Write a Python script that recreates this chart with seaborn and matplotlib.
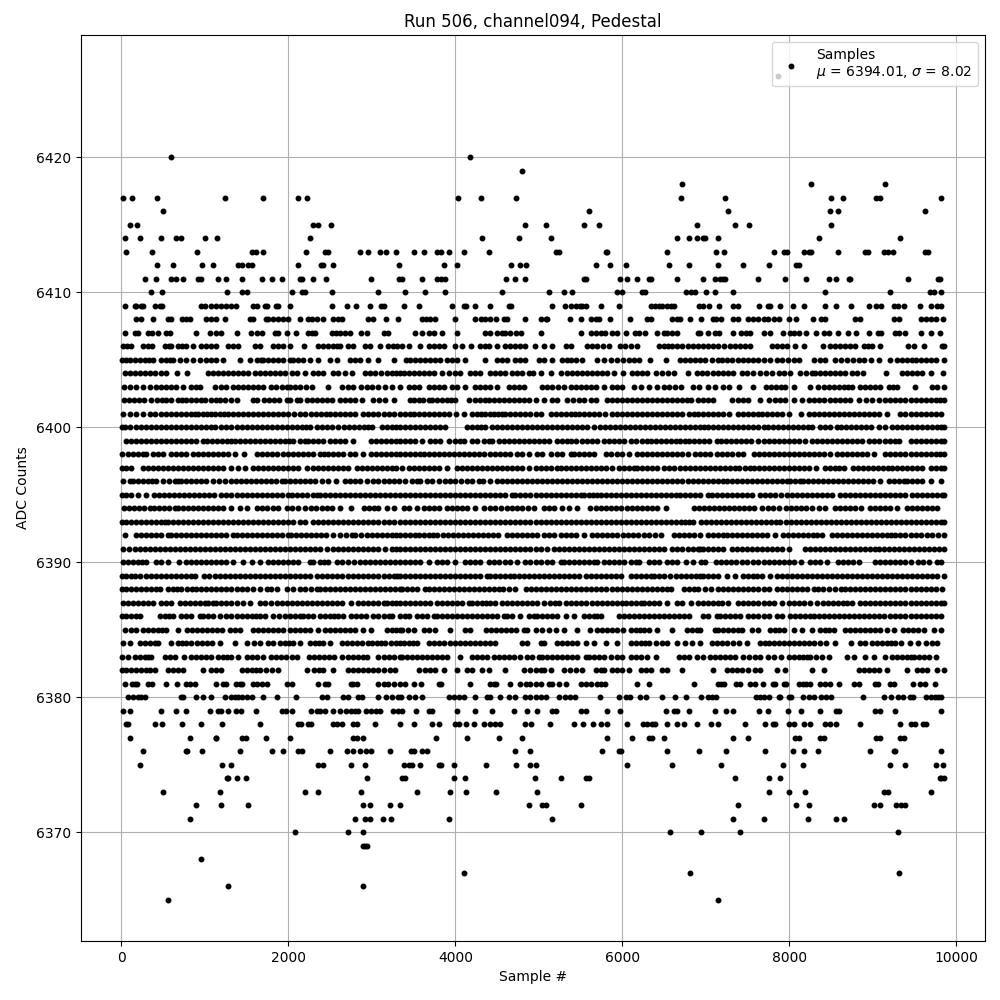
import pandas as pd
import matplotlib
matplotlib.use("Agg")
import matplotlib.pyplot as plt
import seaborn as sns

# sample positions, per ADC level, in tens of samples
adc_6426 = [786]
adc_6420 = [59, 418]
adc_6419 = [480]
adc_6418 = [672, 826, 915]
adc_6417 = [2, 13, 43, 124, 170, 212, 222, 403, 431, 473, 670, 723, 850, 864, 904, 908, 982]
adc_6416 = [50, 560, 726, 849, 858, 962]
adc_6415 = [10, 19, 229, 236, 251, 483, 508, 554, 572, 689, 735, 752, 850]
adc_6414 = [5, 22, 47, 65, 71, 100, 115, 226, 432, 476, 514, 665, 680, 689, 696, 699, 714, 835, 932]
adc_6413 = [6, 37, 91, 156, 161, 170, 221, 244, 247, 286, 296, 310, 317, 329, 350, 363, 378, 383, 392, 410, 440, 521, 524, 580, 582, 654, 712, 722, 781, 793, 797, 818, 823, 826, 858, 890, 894, 913, 918, 924, 962, 966]
adc_6412 = [43, 62, 97, 110, 140, 145, 152, 156, 212, 239, 242, 254, 332, 386, 402, 467, 477, 485, 568, 585, 604, 656, 680, 715, 744, 776, 808, 811]
adc_6411 = [28, 42, 60, 66, 74, 92, 95, 116, 125, 144, 169, 180, 192, 214, 216, 230, 245, 299, 333, 336, 360, 378, 383, 388, 461, 472, 484, 554, 556, 597, 605, 618, 632, 634, 666, 696, 711, 717, 721, 723, 762, 795, 820, 848, 856, 871, 873, 942, 978, 980]
adc_6410 = [36, 49, 127, 144, 151, 205, 216, 220, 252, 308, 340, 364, 388, 456, 512, 530, 540, 594, 599, 623, 627, 676, 682, 687, 700, 711, 733, 843, 921, 968, 973, 982]
adc_6409 = [5, 16, 18, 24, 26, 40, 46, 49, 96, 100, 108, 113, 120, 125, 131, 137, 158, 163, 172, 174, 185, 188, 202, 252, 270, 281, 298, 311, 315, 339, 356, 396, 410, 413, 423, 441, 464, 467, 516, 531, 539, 544, 549, 552, 557, 575, 596, 634, 639, 644, 648, 653, 658, 662, 692, 697, 704, 716, 732, 739, 764, 774, 777, 789, 804, 817, 843, 856, 874, 895, 904, 910, 925, 930, 937, 956, 969, 977, 982]
adc_6408 = [18, 24, 38, 56, 59, 73, 78, 82, 102, 107, 113, 124, 154, 158, 173, 176, 182, 188, 194, 200, 214, 223, 228, 234, 241, 254, 259, 264, 295, 302, 317, 331, 360, 365, 370, 376, 400, 424, 431, 436, 441, 449, 458, 462, 484, 503, 508, 510, 537, 550, 563, 568, 572, 585, 609, 630, 634, 660, 665, 669, 681, 694, 708, 712, 718, 733, 738, 751, 757, 763, 769, 774, 781, 788, 799, 808, 828, 838, 843, 878, 885, 925, 931, 958, 964, 970, 976, 984]
adc_6407 = [5, 17, 20, 32, 37, 44, 54, 58, 90, 106, 114, 119, 138, 155, 162, 168, 184, 188, 199, 209, 223, 228, 232, 252, 257, 262, 268, 274, 287, 294, 314, 319, 352, 360, 368, 375, 384, 402, 436, 441, 450, 456, 459, 466, 473, 479, 503, 550, 563, 568, 575, 579, 588, 593, 604, 615, 620, 627, 642, 650, 654, 660, 666, 690, 693, 702, 711, 716, 733, 742, 748, 753, 770, 777, 792, 801, 806, 812, 820, 832, 841, 848, 858, 870, 880, 895, 906, 910, 926, 931, 938, 957, 969, 980]

adc_6406 = [2, 7, 12, 26, 32, 37, 52, 57, 60, 68, 73, 78, 86, 96, 102, 108, 114, 128, 134, 140, 160, 166, 182, 188, 194, 202, 219, 235, 241, 247, 253, 258, 262, 271, 278, 292, 298, 310, 319, 325, 330, 336, 344, 358, 368, 374, 380, 386, 400, 408, 419, 430, 435, 440, 450, 460, 466, 472, 478, 484, 495, 506, 516, 532, 538, 558, 564, 570, 577, 584, 597, 603, 610, 617, 644, 650, 655, 660, 666, 672, 679, 685, 691, 697, 703, 709, 715, 722, 729, 735, 741, 747, 753, 779, 785, 791, 797, 807, 817, 840, 849, 855, 861, 867, 873, 879, 889, 894, 899, 909, 942, 949, 961, 983, 985]
adc_6405 = [1, 6, 11, 16, 22, 28, 33, 38, 48, 53, 58, 62, 70, 78, 86, 94, 102, 108, 114, 122, 142, 154, 163, 167, 170, 176, 182, 188, 194, 202, 206, 212, 218, 226, 235, 250, 258, 274, 280, 286, 296, 307, 326, 341, 346, 352, 358, 364, 370, 376, 382, 390, 396, 402, 412, 436, 450, 456, 462, 472, 478, 484, 500, 506, 516, 528, 534, 539, 544, 552, 570, 578, 586, 594, 601, 608, 614, 620, 633, 652, 669, 675, 681, 687, 693, 699, 707, 715, 719, 725, 731, 738, 745, 751, 757, 763, 770, 777, 785, 791, 798, 805, 812, 830, 837, 843, 855, 862, 869, 876, 883, 889, 898, 907, 920, 929, 935, 941, 947, 952, 957, 964, 969, 975, 985]
adc_6404 = [4, 10, 16, 22, 28, 34, 40, 48, 53, 67, 79, 104, 110, 116, 122, 128, 134, 140, 146, 152, 160, 166, 172, 178, 184, 190, 196, 204, 210, 220, 230, 236, 242, 254, 260, 268, 276, 292, 298, 304, 311, 318, 324, 329, 334, 338, 344, 350, 356, 362, 368, 374, 384, 393, 400, 406, 418, 424, 430, 441, 448, 453, 460, 468, 474, 480, 488, 493, 502, 514, 527, 534, 540, 546, 552, 558, 564, 570, 576, 582, 590, 601, 612, 618, 624, 630, 640, 648, 655, 662, 678, 689, 695, 701, 709, 715, 721, 727, 733, 743, 749, 756, 765, 772, 779, 787, 794, 801, 813, 820, 827, 831, 837, 843, 849, 855, 861, 867, 875, 881, 888, 916, 935, 941, 947, 953, 959, 969, 984]
adc_6403 = [3, 10, 18, 26, 34, 42, 48, 54, 60, 66, 74, 84, 89, 94, 112, 119, 126, 134, 140, 146, 152, 158, 164, 170, 179, 185, 192, 198, 202, 208, 214, 221, 228, 248, 264, 271, 278, 287, 294, 300, 308, 316, 324, 334, 344, 350, 356, 368, 374, 380, 386, 396, 402, 412, 424, 430, 436, 442, 450, 464, 470, 476, 482, 504, 510, 516, 523, 530, 538, 544, 550, 556, 562, 568, 578, 588, 594, 600, 614, 622, 632, 642, 650, 656, 663, 670, 685, 692, 703, 711, 721, 728, 740, 757, 772, 778, 784, 790, 795, 805, 825, 834, 841, 847, 853, 859, 865, 870, 875, 885, 891, 897, 903, 909, 919, 924, 929, 950, 971, 977, 985]
adc_6402 = [3, 9, 15, 21, 27, 36, 43, 49, 54, 59, 68, 73, 78, 83, 89, 95, 100, 108, 113, 118, 124, 131, 138, 158, 162, 171, 177, 183, 189, 198, 202, 210, 214, 222, 228, 234, 240, 246, 252, 262, 268, 274, 280, 288, 302, 309, 316, 326, 346, 351, 356, 361, 368, 372, 378, 384, 390, 395, 400, 416, 423, 430, 436, 440, 446, 452, 458, 464, 470, 476, 482, 488, 496, 506, 516, 522, 534, 541, 548, 554, 562, 568, 582, 588, 593, 600, 606, 612, 618, 624, 630, 636, 642, 648, 654, 660, 666, 672, 677, 682, 690, 696, 703, 709, 731, 738, 745, 751, 765, 776, 783, 789, 795, 805, 815, 823, 829, 835, 841, 849, 855, 861, 867, 873, 883, 892, 899, 907, 914, 921, 927, 933, 939, 945, 951, 957, 963, 969, 975, 980, 985]
adc_6401 = [2, 10, 18, 26, 35, 41, 47, 53, 59, 65, 71, 77, 83, 88, 92, 98, 103, 108, 112, 118, 123, 128, 134, 140, 146, 152, 158, 164, 170, 176, 182, 188, 194, 200, 207, 214, 220, 227, 233, 239, 245, 250, 256, 262, 268, 274, 280, 290, 296, 302, 308, 314, 320, 326, 334, 340, 346, 351, 356, 362, 368, 374, 380, 386, 392, 401, 410, 420, 426, 431, 436, 442, 446, 451, 456, 460, 466, 472, 478, 484, 490, 496, 502, 514, 520, 526, 532, 538, 543, 548, 554, 560, 566, 572, 579, 588, 594, 600, 606, 612, 618, 624, 630, 636, 642, 648, 654, 660, 666, 672, 680, 686, 691, 697, 703, 709, 715, 721, 728, 738, 745, 751, 757, 763, 767, 773, 779, 785, 791, 799, 814, 823, 829, 835, 841, 847, 853, 859, 865, 871, 877, 883, 889, 895, 901, 907, 917, 933, 939, 945, 951, 957, 963, 969, 975, 981]
adc_6400 = [1, 5, 10, 18, 24, 30, 36, 42, 48, 54, 60, 66, 72, 78, 84, 90, 96, 102, 107, 112, 120, 126, 132, 138, 144, 150, 156, 162, 168, 174, 180, 186, 192, 198, 204, 210, 216, 221, 226, 234, 240, 246, 252, 260, 267, 273, 279, 285, 291, 296, 300, 312, 318, 324, 329, 334, 340, 346, 352, 358, 364, 370, 376, 382, 388, 414, 420, 426, 431, 436, 444, 450, 456, 462, 468, 474, 480, 486, 492, 498, 504, 510, 516, 522, 528, 534, 540, 546, 552, 558, 566, 573, 579, 585, 591, 597, 603, 609, 615, 621, 627, 633, 639, 645, 651, 657, 663, 669, 675, 681, 687, 693, 698, 703, 709, 715, 721, 727, 733, 739, 745, 751, 757, 763, 769, 774, 780, 786, 792, 798, 804, 810, 816, 822, 827, 837, 843, 849, 857, 862, 868, 874, 880, 886, 892, 898, 907, 915, 923, 929, 935, 941, 947, 953, 959, 965, 971, 977, 982, 985]
adc_6399 = [6, 12, 18, 24, 30, 36, 42, 48, 54, 60, 66, 72, 78, 84, 90, 98, 103, 109, 115, 121, 127, 132, 136, 142, 148, 154, 160, 166, 172, 178, 184, 190, 196, 201, 206, 214, 220, 224, 230, 236, 242, 250, 256, 262, 268, 278, 299, 305, 311, 317, 323, 329, 334, 340, 346, 352, 360, 370, 376, 382, 392, 400, 405, 410, 420, 426, 434, 440, 444, 452, 458, 464, 470, 476, 482, 488, 494, 500, 506, 512, 522, 528, 534, 539, 544, 552, 558, 564, 570, 578, 584, 590, 596, 602, 610, 616, 624, 630, 634, 640, 646, 652, 658, 664, 669, 675, 680, 686, 692, 698, 704, 713, 718, 724, 730, 736, 742, 748, 754, 763, 769, 775, 781, 787, 793, 799, 805, 811, 819, 827, 833, 839, 845, 851, 857, 863, 869, 875, 881, 887, 895, 901, 907, 914, 920, 926, 931, 946, 952, 958, 964, 970, 976, 981, 985]
adc_6398 = [1, 8, 14, 20, 26, 30, 38, 44, 50, 59, 65, 72, 78, 86, 92, 98, 104, 110, 116, 122, 128, 136, 147, 162, 168, 174, 180, 186, 194, 200, 206, 212, 218, 224, 230, 238, 243, 248, 254, 260, 266, 274, 280, 290, 299, 305, 311, 317, 323, 329, 334, 340, 346, 352, 358, 362, 368, 374, 380, 386, 392, 398, 404, 410, 416, 422, 428, 434, 442, 448, 454, 460, 466, 474, 480, 488, 498, 504, 514, 522, 528, 538, 542, 548, 554, 560, 566, 580, 586, 594, 600, 608, 618, 624, 630, 636, 642, 648, 654, 660, 666, 672, 678, 687, 693, 699, 705, 713, 719, 725, 731, 738, 745, 758, 764, 770, 776, 782, 788, 794, 800, 806, 812, 818, 824, 830, 836, 842, 849, 857, 863, 869, 875, 881, 887, 893, 901, 915, 921, 927, 933, 939, 945, 951, 957, 963, 969, 975, 980, 985]
adc_6397 = [1, 6, 12, 26, 32, 38, 44, 50, 56, 62, 68, 74, 80, 86, 92, 98, 104, 110, 116, 122, 132, 140, 148, 158, 164, 170, 176, 182, 188, 194, 200, 206, 212, 222, 230, 236, 242, 248, 254, 260, 266, 272, 282, 288, 294, 300, 306, 312, 318, 324, 329, 336, 344, 350, 356, 362, 368, 374, 380, 390, 402, 408, 414, 420, 426, 432, 438, 444, 450, 456, 462, 468, 474, 480, 488, 496, 502, 508, 514, 522, 526, 532, 538, 544, 550, 556, 562, 568, 574, 580, 588, 596, 602, 608, 614, 618, 624, 630, 636, 642, 650, 656, 662, 669, 675, 681, 687, 693, 699, 705, 711, 717, 723, 729, 735, 740, 747, 753, 758, 764, 770, 776, 782, 788, 794, 800, 806, 812, 818, 824, 832, 843, 849, 855, 859, 865, 876, 882, 888, 894, 900, 906, 912, 918, 923, 929, 935, 941, 947, 953, 959, 969, 975, 981, 985]
adc_6396 = [2, 10, 14, 20, 26, 32, 37, 42, 50, 57, 64, 68, 72, 78, 84, 90, 96, 102, 110, 117, 124, 131, 137, 143, 149, 155, 161, 167, 173, 179, 185, 192, 196, 202, 208, 214, 220, 226, 232, 240, 247, 257, 268, 274, 280, 286, 294, 302, 308, 314, 320, 326, 332, 340, 348, 354, 358, 366, 372, 380, 388, 394, 400, 407, 414, 420, 428, 433, 442, 450, 456, 462, 468, 474, 480, 486, 492, 498, 504, 510, 516, 522, 528, 534, 540, 546, 552, 558, 564, 570, 576, 582, 588, 594, 600, 606, 612, 618, 624, 630, 636, 642, 648, 654, 660, 666, 672, 678, 684, 690, 696, 702, 708, 714, 720, 725, 731, 737, 743, 749, 755, 761, 767, 773, 779, 785, 791, 797, 801, 807, 813, 816, 822, 828, 834, 840, 846, 852, 858, 864, 870, 876, 882, 888, 894, 900, 909, 919, 925, 931, 937, 941, 947, 953, 959, 969, 982]
adc_6395 = [1, 6, 12, 20, 30, 39, 45, 51, 57, 63, 69, 75, 81, 87, 93, 99, 105, 111, 120, 126, 132, 138, 144, 150, 156, 162, 168, 174, 180, 186, 192, 200, 204, 210, 216, 222, 230, 234, 238, 244, 250, 256, 262, 268, 274, 280, 286, 292, 298, 304, 310, 316, 322, 328, 334, 340, 346, 352, 358, 364, 370, 376, 382, 388, 394, 400, 406, 412, 418, 424, 430, 436, 442, 448, 454, 460, 468, 472, 478, 484, 490, 496, 502, 508, 514, 520, 526, 532, 538, 544, 550, 554, 560, 565, 570, 574, 580, 586, 592, 598, 604, 610, 616, 622, 628, 634, 640, 646, 652, 658, 664, 669, 675, 681, 687, 693, 703, 707, 713, 719, 725, 731, 737, 743, 749, 755, 765, 771, 777, 783, 790, 797, 803, 809, 815, 821, 827, 833, 839, 845, 851, 861, 867, 873, 879, 885, 891, 897, 903, 909, 915, 921, 927, 933, 939, 947, 953, 959, 965, 971, 977, 983, 985]
adc_6394 = [3, 9, 15, 21, 27, 34, 39, 45, 51, 57, 64, 68, 74, 80, 86, 92, 98, 104, 110, 116, 122, 132, 142, 150, 162, 168, 175, 182, 188, 199, 205, 212, 220, 227, 233, 240, 246, 252, 262, 275, 291, 297, 303, 308, 318, 326, 338, 344, 354, 362, 368, 374, 380, 390, 396, 402, 408, 414, 424, 434, 442, 448, 455, 462, 468, 474, 480, 487, 494, 506, 512, 518, 528, 536, 546, 561, 568, 574, 580, 586, 592, 598, 605, 612, 618, 624, 630, 636, 642, 652, 686, 692, 698, 704, 710, 716, 722, 728, 734, 740, 746, 752, 758, 767, 774, 780, 787, 796, 802, 808, 814, 820, 827, 835, 843, 855, 861, 867, 873, 879, 886, 897, 903, 909, 915, 921, 929, 941, 947, 953, 959, 965, 971, 977]
adc_6393 = [1, 6, 12, 18, 24, 30, 36, 42, 47, 52, 56, 62, 68, 74, 80, 86, 92, 98, 104, 110, 116, 122, 128, 134, 140, 146, 152, 158, 164, 170, 176, 182, 188, 194, 200, 206, 214, 220, 230, 236, 242, 248, 254, 260, 266, 272, 278, 284, 290, 296, 302, 308, 314, 320, 326, 334, 340, 346, 352, 358, 364, 370, 376, 382, 388, 394, 400, 406, 412, 418, 424, 430, 436, 442, 448, 454, 460, 466, 472, 478, 484, 490, 496, 502, 508, 514, 520, 526, 532, 538, 544, 550, 556, 562, 568, 574, 580, 586, 592, 598, 604, 610, 616, 622, 628, 634, 640, 646, 652, 658, 664, 670, 675, 680, 685, 694, 700, 706, 712, 718, 724, 730, 736, 742, 748, 754, 760, 766, 772, 778, 784, 789, 796, 802, 808, 814, 820, 826, 832, 838, 844, 850, 856, 862, 868, 874, 880, 886, 892, 898, 904, 910, 916, 922, 928, 934, 940, 946, 952, 958, 964, 970, 976, 982, 985]
adc_6392 = [4, 18, 24, 30, 36, 42, 48, 56, 60, 66, 72, 78, 84, 90, 95, 101, 107, 113, 120, 126, 134, 138, 144, 150, 156, 162, 168, 174, 180, 186, 192, 200, 203, 209, 215, 221, 227, 233, 239, 245, 254, 262, 269, 276, 280, 287, 294, 300, 306, 312, 318, 324, 329, 334, 340, 346, 352, 356, 362, 368, 373, 378, 385, 391, 397, 403, 409, 415, 421, 427, 433, 439, 445, 451, 462, 468, 474, 480, 486, 492, 498, 506, 512, 518, 526, 533, 539, 545, 554, 564, 570, 576, 582, 588, 594, 601, 607, 613, 619, 626, 632, 639, 646, 662, 668, 674, 680, 686, 693, 702, 709, 715, 720, 725, 731, 737, 743, 749, 755, 761, 767, 773, 783, 792, 798, 804, 810, 816, 822, 828, 833, 839, 851, 857, 863, 869, 875, 881, 887, 893, 899, 905, 911, 917, 922, 927, 933, 939, 945, 951, 957, 965, 971, 978, 985]
adc_6391 = [2, 9, 16, 22, 28, 34, 40, 46, 52, 58, 64, 70, 76, 82, 88, 94, 100, 106, 112, 118, 124, 130, 136, 142, 148, 154, 160, 166, 172, 178, 184, 190, 196, 202, 208, 214, 220, 226, 232, 238, 246, 254, 260, 266, 272, 278, 284, 290, 296, 302, 308, 316, 324, 329, 334, 340, 346, 352, 358, 364, 370, 376, 382, 388, 394, 400, 406, 412, 418, 424, 430, 436, 442, 448, 454, 460, 466, 472, 478, 484, 490, 496, 502, 510, 518, 524, 530, 536, 542, 548, 554, 560, 566, 572, 578, 584, 590, 596, 602, 608, 614, 620, 626, 632, 638, 644, 650, 660, 666, 672, 678, 684, 690, 693, 697, 703, 709, 715, 721, 731, 737, 743, 749, 755, 761, 767, 773, 779, 785, 791, 799, 819, 825, 831, 837, 843, 849, 855, 861, 867, 873, 879, 885, 891, 897, 903, 907, 913, 919, 925, 931, 937, 943, 949, 955, 961, 967, 973, 979, 985]
adc_6390 = [2, 8, 14, 20, 25, 30, 42, 48, 56, 69, 78, 84, 90, 96, 102, 108, 114, 120, 126, 134, 146, 157, 166, 176, 182, 188, 194, 200, 206, 212, 226, 230, 238, 243, 248, 258, 264, 272, 279, 286, 292, 298, 304, 310, 316, 322, 328, 334, 340, 346, 352, 358, 368, 378, 384, 390, 400, 412, 418, 424, 430, 440, 446, 452, 460, 466, 474, 484, 490, 496, 503, 510, 516, 526, 530, 536, 542, 548, 554, 560, 566, 570, 578, 584, 590, 596, 602, 610, 616, 620, 632, 638, 644, 654, 660, 666, 676, 684, 694, 699, 712, 718, 724, 730, 736, 743, 749, 757, 763, 769, 775, 781, 787, 793, 799, 805, 814, 825, 831, 837, 845, 858, 864, 870, 876, 883, 903, 909, 915, 921, 927, 933, 939, 945, 954, 960, 967, 977, 981]
adc_6389 = [1, 6, 12, 17, 22, 30, 36, 42, 48, 54, 60, 66, 72, 78, 83, 88, 99, 105, 112, 118, 124, 130, 136, 142, 148, 154, 160, 166, 172, 178, 184, 190, 196, 202, 208, 214, 220, 226, 234, 240, 246, 252, 258, 264, 272, 278, 284, 290, 296, 302, 308, 314, 320, 326, 330, 334, 340, 346, 352, 358, 364, 370, 376, 382, 388, 394, 400, 406, 412, 418, 424, 430, 438, 442, 448, 454, 460, 466, 470, 476, 482, 488, 494, 500, 506, 512, 518, 524, 530, 536, 542, 548, 556, 562, 568, 574, 580, 586, 592, 598, 610, 616, 622, 628, 634, 638, 644, 650, 657, 664, 670, 676, 682, 688, 693, 697, 703, 709, 715, 725, 735, 745, 751, 757, 761, 767, 777, 785, 791, 797, 803, 809, 815, 821, 827, 833, 839, 845, 851, 857, 863, 869, 875, 881, 887, 893, 899, 905, 911, 917, 923, 929, 935, 941, 947, 953, 959, 965, 971, 977, 985]
adc_6388 = [1, 6, 12, 18, 24, 30, 36, 42, 46, 56, 62, 67, 72, 79, 85, 90, 96, 102, 108, 114, 120, 126, 132, 138, 144, 150, 158, 166, 174, 179, 186, 199, 206, 214, 220, 227, 234, 238, 244, 250, 256, 262, 268, 274, 280, 286, 292, 298, 304, 310, 316, 322, 328, 334, 336, 342, 348, 354, 364, 369, 374, 380, 386, 392, 398, 404, 410, 416, 422, 428, 434, 440, 446, 452, 457, 464, 472, 485, 491, 497, 503, 509, 515, 521, 527, 533, 539, 545, 551, 557, 563, 569, 575, 581, 587, 593, 599, 605, 611, 617, 623, 629, 635, 641, 647, 653, 658, 674, 680, 686, 690, 699, 706, 715, 721, 727, 733, 739, 745, 751, 757, 763, 769, 775, 785, 791, 797, 803, 809, 815, 821, 829, 834, 840, 848, 855, 862, 867, 873, 879, 885, 891, 897, 903, 909, 915, 921, 927, 933, 939, 945, 951, 957, 963, 969, 975, 983]
adc_6387 = [2, 8, 14, 20, 26, 32, 38, 47, 54, 60, 70, 76, 82, 88, 94, 100, 104, 110, 114, 120, 126, 132, 138, 146, 154, 166, 172, 179, 186, 192, 198, 204, 210, 216, 222, 228, 234, 240, 246, 252, 258, 264, 275, 283, 289, 295, 301, 307, 314, 318, 324, 329, 334, 340, 346, 352, 358, 364, 370, 378, 384, 390, 396, 402, 408, 416, 420, 426, 432, 437, 442, 447, 456, 462, 468, 474, 480, 486, 492, 498, 506, 513, 519, 524, 532, 538, 544, 550, 556, 564, 570, 576, 582, 588, 594, 600, 604, 610, 616, 622, 626, 632, 638, 644, 654, 666, 672, 682, 691, 697, 703, 709, 715, 719, 727, 738, 744, 750, 756, 762, 769, 775, 781, 791, 799, 805, 811, 817, 825, 833, 840, 846, 852, 858, 864, 869, 875, 885, 891, 897, 903, 909, 915, 921, 927, 933, 939, 945, 951, 957, 963, 969, 975, 981, 985]
adc_6386 = [1, 6, 12, 18, 23, 46, 52, 57, 62, 72, 78, 84, 94, 98, 104, 110, 118, 126, 132, 138, 144, 150, 156, 161, 166, 172, 182, 189, 196, 202, 208, 214, 218, 224, 230, 238, 244, 250, 255, 260, 266, 275, 281, 287, 293, 302, 308, 314, 320, 324, 334, 340, 344, 354, 360, 366, 374, 378, 384, 390, 396, 402, 408, 414, 420, 426, 432, 438, 444, 450, 458, 462, 468, 478, 488, 494, 498, 504, 510, 516, 522, 532, 542, 554, 560, 566, 570, 574, 596, 602, 608, 614, 620, 626, 632, 638, 644, 650, 656, 662, 668, 674, 680, 697, 703, 713, 717, 723, 729, 735, 741, 751, 757, 763, 769, 775, 785, 791, 801, 807, 813, 819, 825, 829, 835, 841, 847, 853, 859, 865, 871, 877, 883, 889, 895, 901, 907, 913, 921, 927, 933, 939, 945, 951, 957, 963, 969, 975, 981]
adc_6385 = [5, 12, 18, 26, 32, 38, 44, 49, 54, 68, 79, 85, 91, 97, 103, 109, 115, 121, 130, 136, 142, 158, 164, 170, 176, 182, 188, 194, 202, 208, 214, 220, 226, 236, 244, 250, 256, 262, 268, 274, 280, 290, 299, 318, 324, 329, 334, 336, 343, 350, 362, 368, 376, 394, 412, 418, 437, 443, 449, 455, 461, 467, 473, 482, 486, 496, 504, 512, 520, 530, 546, 561, 570, 576, 582, 588, 594, 601, 610, 616, 621, 626, 632, 642, 660, 677, 683, 689, 693, 711, 715, 721, 727, 733, 738, 743, 755, 763, 777, 783, 788, 793, 805, 815, 827, 837, 843, 848, 853, 867, 873, 879, 885, 891, 897, 903, 909, 917, 925, 936, 942, 948, 954, 961, 973, 981]
adc_6384 = [2, 11, 23, 29, 35, 40, 44, 59, 68, 73, 78, 83, 91, 97, 103, 109, 118, 136, 151, 159, 166, 176, 182, 190, 196, 201, 206, 214, 226, 232, 237, 242, 250, 264, 270, 276, 282, 288, 296, 300, 306, 311, 316, 323, 329, 334, 338, 344, 349, 354, 368, 374, 380, 386, 394, 400, 406, 412, 418, 424, 430, 436, 442, 448, 480, 486, 502, 506, 522, 528, 534, 540, 546, 556, 566, 580, 594, 610, 616, 622, 627, 632, 640, 647, 654, 666, 675, 683, 693, 707, 713, 719, 725, 733, 740, 749, 765, 771, 776, 781, 787, 793, 799, 805, 811, 817, 823, 829, 837, 844, 854, 874, 885, 891, 899, 905, 911, 917, 922, 927, 934, 944, 954, 963, 971, 977]
adc_6383 = [1, 8, 16, 22, 28, 32, 36, 52, 58, 64, 75, 84, 90, 96, 102, 108, 116, 122, 127, 132, 140, 151, 157, 163, 170, 179, 185, 191, 197, 204, 210, 225, 231, 237, 243, 249, 255, 264, 272, 278, 284, 289, 294, 308, 314, 320, 326, 334, 336, 342, 348, 354, 360, 366, 372, 378, 384, 390, 406, 420, 426, 432, 438, 446, 452, 458, 464, 470, 477, 486, 492, 500, 504, 510, 516, 522, 528, 534, 540, 546, 556, 560, 566, 572, 578, 586, 594, 600, 610, 616, 622, 630, 640, 668, 674, 680, 689, 697, 705, 711, 717, 723, 729, 735, 745, 752, 759, 765, 774, 781, 790, 799, 805, 811, 816, 821, 825, 832, 839, 847, 869, 877, 890, 901, 914, 923, 929, 935, 941, 945, 949, 955, 961, 967, 975]
adc_6382 = [1, 6, 12, 18, 24, 30, 35, 40, 56, 62, 68, 74, 98, 107, 113, 120, 144, 150, 156, 161, 166, 173, 180, 188, 222, 231, 237, 242, 253, 272, 278, 284, 290, 296, 302, 308, 314, 322, 328, 357, 364, 370, 376, 386, 402, 414, 420, 432, 440, 460, 482, 490, 496, 502, 506, 514, 530, 537, 544, 552, 568, 574, 578, 588, 594, 600, 608, 622, 628, 634, 648, 654, 672, 708, 725, 731, 737, 743, 751, 759, 765, 785, 795, 827, 841, 883, 889, 895, 901, 907, 917, 941, 953, 959, 965, 977, 985]
adc_6381 = [4, 13, 17, 19, 32, 37, 54, 67, 77, 82, 88, 114, 122, 126, 137, 142, 145, 158, 162, 169, 174, 198, 205, 236, 244, 247, 275, 278, 282, 308, 314, 319, 326, 334, 340, 350, 359, 380, 383, 417, 442, 446, 449, 466, 478, 485, 490, 497, 503, 512, 516, 524, 532, 551, 556, 563, 570, 575, 579, 617, 632, 686, 715, 718, 722, 736, 741, 753, 759, 768, 780, 783, 793, 796, 812, 816, 820, 825, 837, 843, 849, 859, 877, 883, 902, 906, 920, 925, 948, 956, 962, 974]
adc_6380 = [8, 14, 20, 24, 28, 71, 74, 89, 98, 107, 124, 131, 136, 140, 145, 151, 157, 170, 186, 209, 240, 246, 266, 271, 283, 288, 307, 317, 324, 331, 335, 344, 352, 360, 392, 398, 404, 410, 423, 438, 442, 454, 464, 472, 484, 490, 496, 502, 508, 524, 531, 537, 543, 573, 596, 604, 609, 621, 628, 647, 663, 676, 694, 702, 707, 712, 760, 765, 770, 775, 787, 789, 800, 802, 816, 823, 830, 838, 844, 850, 888, 913, 922, 930, 936, 944, 948, 964, 970, 974, 978, 982]
adc_6379 = [2, 10, 47, 66, 78, 106, 116, 119, 128, 137, 143, 161, 193, 197, 205, 227, 234, 238, 244, 254, 262, 269, 275, 280, 284, 293, 299, 305, 310, 325, 331, 336, 353, 368, 372, 402, 423, 444, 470, 486, 498, 516, 520, 551, 557, 582, 597, 652, 662, 666, 680, 711, 724, 732, 764, 774, 798, 814, 837, 856, 859, 903, 908, 926, 982]
adc_6378 = [6, 8, 40, 49, 73, 95, 121, 166, 212, 215, 223, 227, 253, 258, 264, 277, 282, 304, 334, 351, 372, 381, 400, 404, 413, 422, 434, 442, 448, 454, 484, 491, 513, 542, 553, 565, 575, 582, 605, 625, 630, 636, 639, 654, 665, 674, 689, 706, 714, 747, 771, 780, 783, 799, 806, 818, 825, 843, 849, 856, 884, 933, 945, 950, 960, 963]
adc_6377 = [11, 82, 113, 114, 144, 149, 173, 202, 277, 282, 289, 377, 414, 452, 480, 582, 612, 632, 635, 650, 732, 751, 807, 811, 837, 842, 904, 909, 933, 937]
adc_6376 = [26, 77, 79, 97, 142, 181, 194, 212, 217, 250, 270, 278, 286, 293, 299, 322, 347, 350, 360, 366, 472, 489, 576, 596, 598, 653, 692, 724, 771, 804, 817, 834, 896, 925, 927, 982]
adc_6375 = [22, 121, 132, 235, 242, 275, 292, 338, 344, 348, 358, 381, 383, 399, 437, 473, 489, 496, 605, 659, 718, 792, 816, 921, 938, 976, 984]
adc_6374 = [127, 128, 139, 149, 294, 336, 340, 398, 412, 495, 526, 556, 560, 735, 776, 789, 980, 982, 985]
adc_6373 = [50, 118, 220, 236, 287, 354, 394, 413, 449, 498, 776, 799, 819, 913, 918, 970]
adc_6372 = [89, 119, 152, 289, 298, 322, 334, 488, 504, 508, 550, 738, 808, 823, 901, 908, 928, 934, 938]
adc_6371 = [82, 280, 292, 298, 313, 323, 392, 516, 733, 769, 822, 856, 865]
adc_6370 = [208, 271, 290, 657, 694, 741, 930]
adc_6369 = [289, 292, 294]
adc_6368 = [95]
adc_6367 = [410, 681, 931]
adc_6366 = [128, 290]
adc_6365 = [56, 715]

levels = [6426, 6420, 6419, 6418, 6417, 6416, 6415, 6414, 6413, 6412, 6411, 6410, 6409, 6408, 6407,
          6406, 6405, 6404, 6403, 6402, 6401, 6400, 6399, 6398, 6397, 6396, 6395, 6394, 6393, 6392,
          6391, 6390, 6389, 6388, 6387, 6386, 6385, 6384, 6383, 6382, 6381, 6380, 6379, 6378, 6377,
          6376, 6375, 6374, 6373, 6372, 6371, 6370, 6369, 6368, 6367, 6366, 6365]

rows = []
for level in levels:
    for pos in globals()[f"adc_{level}"]:
        rows.append({"sample": pos * 10, "adc": level})
df = pd.DataFrame(rows)

fig, ax = plt.subplots(figsize=(10, 10), dpi=100)

sns.scatterplot(
    data=df,
    x="sample",
    y="adc",
    marker="o",
    s=10.5,
    color="black",
    edgecolor="black",
    linewidth=1,
    zorder=2,
    label="Samples\n$\\mu$ = 6394.01, $\\sigma$ = 8.02",
    ax=ax
)

ax.set_xlabel("Sample #")
ax.set_ylabel("ADC Counts")
ax.set_title("Run 506, channel094, Pedestal")
ax.grid(True)
ax.legend(loc="upper right")
fig.subplots_adjust(left=0.081, right=0.985, top=0.965, bottom=0.059)
plt.savefig("out.png", dpi=100)
